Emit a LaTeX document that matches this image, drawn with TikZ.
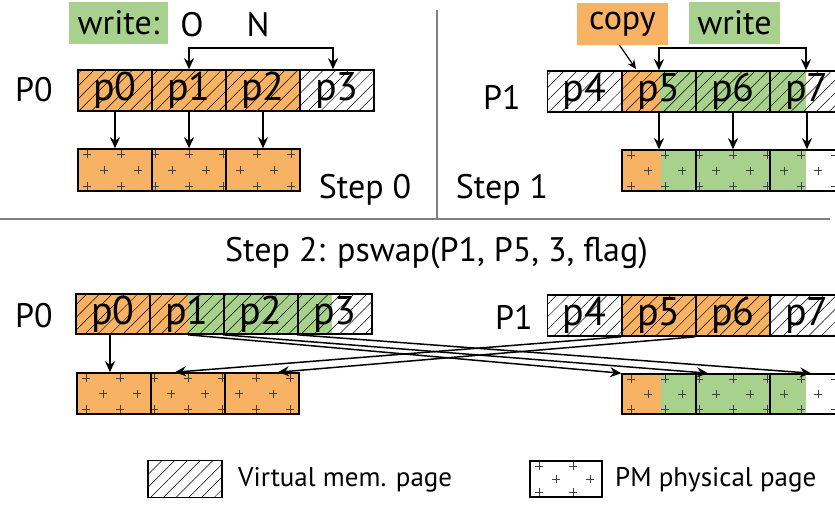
\documentclass[tikz,border=0pt]{standalone}
\usepackage{fontspec}
\setmainfont{PT Sans}
\usetikzlibrary{arrows.meta,patterns.meta}

\definecolor{pgorange}{HTML}{F8B263}
\definecolor{pggreen}{HTML}{A8D18D}
\definecolor{sepgray}{HTML}{808080}

\tikzset{
  vpage/.style={draw, line width=1.6pt, minimum width=74pt, minimum height=41pt,
    inner sep=0pt, pattern={Lines[angle=45,distance=9pt,line width=0.5pt]},
    font=\fontsize{40}{44}\selectfont},
  ppage/.style={draw, line width=1.6pt, minimum width=74pt, minimum height=42pt, inner sep=0pt},
  lbl/.style={font=\fontsize{34}{38}\selectfont, inner sep=0pt},
  tag/.style={lbl, minimum height=42pt, minimum width=91pt},
  legtxt/.style={font=\fontsize{27}{32}\selectfont, inner sep=0pt, anchor=west},
  map/.style={line width=1.5pt, -{Stealth[length=11pt,width=10pt]}},
  sep/.style={sepgray, line width=2.4pt},
  plusmark/.style={line width=0.6pt, black!75},
  pmplus/.pic={\draw[plusmark] (-4,0) -- (4,0) (0,-4) -- (0,4);}
}

% pluses of a PM physical page row: x0, y top, x1, height
\newcommand\pmrow[4]{%
  \begin{scope}
    \clip (#1,#2) rectangle (#3,#2+#4);
    \foreach \k in {0,...,7} {
      \pic at ({#1+9+34*\k},#2+5) {pmplus};
      \pic at ({#1+9+34*\k},#2+#4-5) {pmplus};
      \pic at ({#1+26+34*\k},#2+#4/2) {pmplus};
    }
  \end{scope}}

\begin{document}
\begin{tikzpicture}[x=1pt,y=-1pt]
    \useasboundingbox (0,0) rectangle (835,508);
    \clip (0,0) rectangle (835,508);

    % Step 0
    \fill[pgorange] (78,70) rectangle (300,111);
    \foreach \n/\x in {0/115,1/189,2/263,3/337}
      \node[vpage] (v\n) at (\x,90.5) {p\n};
    \fill[pgorange] (78,149) rectangle (300,191);
    \pmrow{78}{149}{300}{42}
    \foreach \n/\x in {0/115,1/189,2/263}
      \node[ppage] (m\n) at (\x,170) {};
    \foreach \n in {0,1,2}
      \draw[map] (v\n) -- (m\n);
    \node[lbl] (p0a) at (34,90) {P0};
    \node[lbl] (st0) at (365,190) {Step 0};
    \node[tag, fill=pggreen, minimum width=99pt] (wr0) at (118.5,23) {write:};
    \node[lbl] (old) at (192,25) {O};
    \node[lbl] (new) at (258,25) {N};
    \draw[map, {Stealth[length=11pt,width=10pt]}-{Stealth[length=11pt,width=10pt]}]
      (v1.north) -- ++(0,-21) -| ([xshift=-4pt]v3.north);

    % Step 1
    \fill[pgorange] (622,71) rectangle (660,112);
    \fill[pggreen] (660,71) rectangle (806,112);
    \foreach \n/\x in {4/584.5,5/659,6/733,7/807}
      \node[vpage] (v\n) at (\x,91.5) {p\n};
    \fill[pgorange] (622,150) rectangle (661,191);
    \fill[pggreen] (661,150) rectangle (806,191);
    \pmrow{622}{150}{844}{41}
    \foreach \n/\x in {5/659,6/733,7/807}
      \node[ppage, minimum height=41pt] (m\n) at (\x,170.5) {};
    \foreach \n in {5,6,7}
      \draw[map] (v\n) -- (m\n);
    \node[lbl] (p1a) at (502,97) {P1};
    \node[lbl] (st1) at (502,190) {Step 1};
    \node[tag, fill=pgorange] (cpy) at (622.5,24) {copy};
    \node[tag, fill=pggreen] (wr1) at (734.5,23) {write};
    \coordinate (cpyend) at (636,69);
    \draw[line width=1.2pt, -{Stealth[length=9pt,width=8pt]}] ([xshift=-3pt]cpy.south) -- (cpyend);
    \draw[map, {Stealth[length=11pt,width=10pt]}-{Stealth[length=11pt,width=10pt]}]
      (v5.north) -- ++(0,-22) -| ([xshift=-1pt]v7.north);

    % separators
    \draw[sep] (437,10) -- (437,218);
    \draw[sep] (0,219) -- (830,219);

    % Step 2
    \node[lbl] (st2) at (436.5,253) {Step 2: pswap(P1, P5, 3, flag)};
    \fill[pgorange] (76,294) rectangle (188,334);
    \fill[pggreen] (188,294) rectangle (332,334);
    \foreach \n/\x in {0/113,1/187,2/261,3/335}
      \node[vpage, minimum height=40pt] (q\n) at (\x,314) {p\n};
    \fill[pgorange] (77,373) rectangle (299,414);
    \pmrow{77}{373}{299}{41}
    \foreach \n/\x in {0/114,1/188,2/262}
      \node[ppage, minimum height=41pt] (r\n) at (\x,393.5) {};
    \draw[map] ([xshift=-3pt]q0.south) -- ([xshift=-4pt]r0.north);
    \node[lbl] (p0b) at (34,316) {P0};

    \fill[pgorange] (622,295) rectangle (769,336);
    \foreach \n/\x in {4/584.5,5/659,6/733,7/807}
      \node[vpage] (q\n) at (\x,315.5) {p\n};
    \fill[pgorange] (622,374) rectangle (661,414);
    \fill[pggreen] (661,374) rectangle (806,414);
    \pmrow{622}{374}{844}{40}
    \foreach \n/\x in {5/659,6/733,7/807}
      \node[ppage, minimum height=40pt] (r\n) at (\x,394) {};
    \node[lbl] (p1b) at (514,317) {P1};

    % swapped mappings
    \draw[map] ([xshift=1pt]q1.south) -- (r5.north west);
    \draw[map] (q2.south west) -- ([xshift=-25pt]r6.north);
    \draw[map] (q3.south west) -- ([xshift=4pt]r7.north);
    \draw[map] (q5.south west) -- ([xshift=-13pt]r1.north);
    \draw[map] (q6.south west) -- ([xshift=16pt]r2.north);

    % legend
    \node[vpage, minimum width=74pt, minimum height=37pt] (legv) at (185,479) {};
    \node[legtxt] (legvt) at (238,480) {Virtual mem. page};
    \fill[white] (530,461) rectangle (602,497);
    \pmrow{530}{461}{602}{36}
    \node[ppage, minimum width=72pt, minimum height=36pt] (legp) at (566,479) {};
    \node[legtxt] (legpt) at (615,480) {PM physical page};
\end{tikzpicture}
\end{document}
